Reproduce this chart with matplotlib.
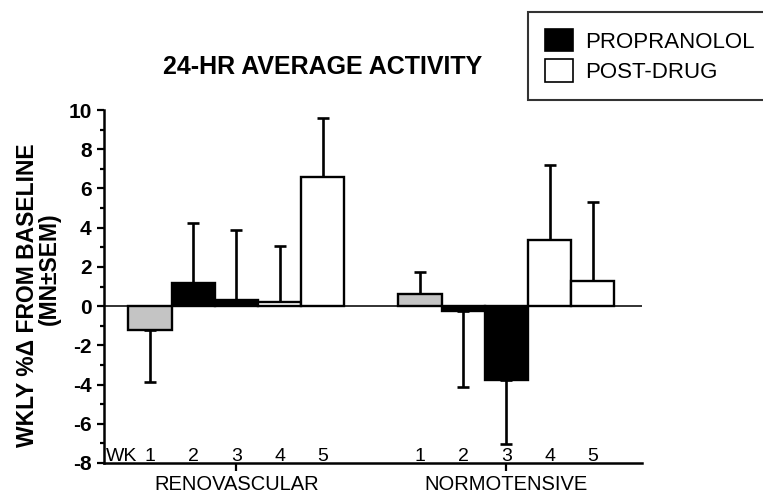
import matplotlib
matplotlib.use("Agg")
import matplotlib.pyplot as plt
from matplotlib.patches import Patch
import numpy as np

plt.rcParams['font.family'] = ['Liberation Sans', 'DejaVu Sans']
plt.rcParams['axes.unicode_minus'] = False

weeks = ["1", "2", "3", "4", "5"]
groups = ["RENOVASCULAR", "NORMOTENSIVE"]
reno_mean = [-1.2, 1.2, 0.3, 0.2, 6.6]
reno_sem = [2.65, 3.05, 3.6, 2.85, 3.0]
normo_mean = [0.6, -0.25, -3.75, 3.35, 1.3]
normo_sem = [1.15, 3.85, 3.3, 3.85, 4.0]
week_colors = ["#c4c4c4", "black", "black", "white", "white"]
legend_labels = ["PROPRANOLOL", "POST-DRUG"]
title = "24-HR AVERAGE ACTIVITY"
ylabel_line1 = "WKLY %\u0394 FROM BASELINE"
ylabel_line2 = "(MN\u00b1SEM)"

fig = plt.figure(figsize=(7.63, 4.96), dpi=100)
ax = fig.add_axes([104/763, 33/496, 538/763, 353/496])

group_offsets = [0.0, 6.25]
lw = 1.7
for off, means, sems in zip(group_offsets, [reno_mean, normo_mean], [reno_sem, normo_sem]):
    x = np.arange(len(means)) + off
    means = np.array(means)
    sems = np.array(sems)
    lower = np.where(means < 0, sems, 0)
    upper = np.where(means >= 0, sems, 0)
    ax.bar(x, means, width=1.0, color=week_colors, edgecolor="black",
           linewidth=lw, zorder=3,
           yerr=[lower, upper], capsize=4,
           error_kw=dict(elinewidth=1.9, capthick=1.9, ecolor="black", zorder=2))
    for xi, w in zip(x, weeks):
        ax.text(xi, -8 + 0.12, w, ha="center", va="baseline", fontsize=14)

ax.text(-0.3, -8 + 0.12, "WK", ha="right", va="baseline", fontsize=14)

ax.axhline(0, color="#222222", linewidth=1.3, zorder=1)

ax.set_xlim(-1.065, 11.39)
ax.set_ylim(-8, 10)
ax.set_yticks(np.arange(-8, 11, 2))
ax.set_yticks(np.arange(-7, 10, 2), minor=True)
ax.tick_params(axis="y", which="major", direction="out", length=5, width=1.6,
               labelsize=15, pad=4)
ax.tick_params(axis="y", which="minor", direction="out", length=3, width=1.6)
for t in ax.get_yticklabels():
    t.set_fontweight("bold")

ax.set_xticks([2, 8.25])
ax.set_xticklabels(groups, fontsize=14.5)
ax.tick_params(axis="x", direction="out", length=6, width=1.6, pad=3)

for s in ["top", "right"]:
    ax.spines[s].set_visible(False)
for s in ["left", "bottom"]:
    ax.spines[s].set_linewidth(1.8)

fig.text(28/763, 1 - 295/496, ylabel_line1, rotation=90, ha="center", va="center",
         fontsize=16.5, fontweight="bold")
fig.text(49/763, 1 - 269/496, ylabel_line2, rotation=90, ha="center", va="center",
         fontsize=16.5, fontweight="bold")

fig.text(323/763, 1 - 67/496, title, ha="center", va="center",
         fontsize=18, fontweight="bold")

handles = [Patch(facecolor="black", edgecolor="black", linewidth=1.2),
           Patch(facecolor="white", edgecolor="black", linewidth=1.2)]
leg = fig.legend(handles, legend_labels, loc="upper left",
                 bbox_to_anchor=(528/763, 1 - 97/496, 0.35, 85/496), mode="expand",
                 fontsize=16, frameon=True, fancybox=False, edgecolor="black",
                 handlelength=1.27, handleheight=1.2, labelspacing=0.3,
                 borderpad=0.75, handletextpad=0.55, borderaxespad=0)
leg.get_frame().set_linewidth(1.5)

fig.savefig("out.png", dpi=100)
